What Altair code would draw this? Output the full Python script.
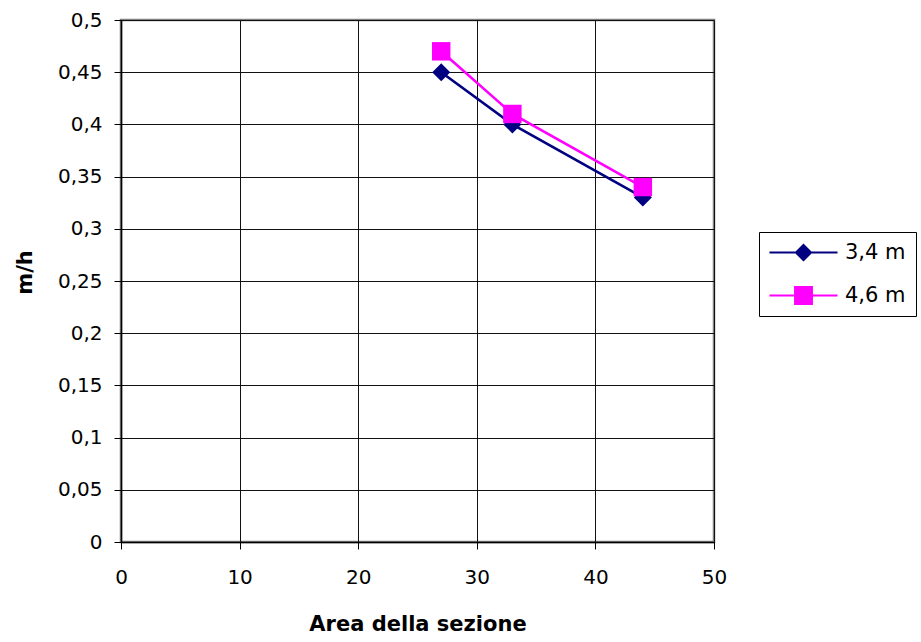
import altair as alt
import pandas as pd

# ---- data ----
series_names = ["3,4 m", "4,6 m"]
series_colors = ["#000080", "#FF00FF"]
area_34 = [27, 33, 44]
mh_34 = [0.45, 0.40, 0.33]
area_46 = [27, 33, 44]
mh_46 = [0.47, 0.41, 0.34]
x_ticks = [0, 10, 20, 30, 40, 50]
y_ticks = [0, 0.05, 0.1, 0.15, 0.2, 0.25, 0.3, 0.35, 0.4, 0.45, 0.5]

df = pd.DataFrame({
    "serie": [series_names[0]] * len(area_34) + [series_names[1]] * len(area_46),
    "area": area_34 + area_46,
    "mh": mh_34 + mh_46,
})

FONT = "DejaVu Sans"
W, H = 593, 522

# legend symbols: a line segment with the marker on it (units of 9 px)
diamond_path = ("M-3.78,-0.12L3.78,-0.12L3.78,0.12L-3.78,0.12Z "
                "M-1,0L0,-1L1,0L0,1Z")
square_path = ("M-3.78,-0.12L3.78,-0.12L3.78,0.12L-3.78,0.12Z "
               "M-1.05,-1.05L1.05,-1.05L1.05,1.05L-1.05,1.05Z")

x_enc = alt.X(
    "area:Q",
    scale=alt.Scale(domain=[0, 50], nice=False, zero=False),
    axis=alt.Axis(
        values=x_ticks, title="Area della sezione", grid=True,
        gridColor="#111111", gridWidth=1, gridOpacity=1,
        domainColor="#000000", domainWidth=1.5,
        tickColor="#000000", tickSize=7, tickWidth=1,
        labelFont=FONT, labelFontSize=20, labelColor="#000000",
        labelPadding=18, labelFlush=False,
        titleFont=FONT, titleFontSize=21, titleFontWeight="bold",
        titleColor="#000000", titleBaseline="alphabetic",
        titleX=W / 2, titleY=88, titleAlign="center",
    ),
)
y_enc = alt.Y(
    "mh:Q",
    scale=alt.Scale(domain=[0, 0.5], nice=False, zero=False),
    axis=alt.Axis(
        values=y_ticks, title="m/h", grid=True,
        gridColor="#111111", gridWidth=1, gridOpacity=1,
        domainColor="#000000", domainWidth=1.5,
        tickColor="#000000", tickSize=7, tickWidth=1,
        labelFont=FONT, labelFontSize=20, labelColor="#000000",
        labelPadding=12, labelFlush=False,
        labelExpr="replace(format(datum.value, '.2~f'), '.', ',')",
        titleFont=FONT, titleFontSize=21, titleFontWeight="bold",
        titleColor="#000000", titleAngle=-90, titleBaseline="middle",
        titleAlign="center", titleX=-96, titleY=252,
    ),
)

color_scale = alt.Scale(domain=series_names, range=series_colors)

base = alt.Chart(df)


def series_layers(name, shape, size):
    sub = base.transform_filter(alt.datum.serie == name)
    line = sub.mark_line(strokeWidth=2.6).encode(
        x=x_enc, y=y_enc,
        color=alt.Color("serie:N", scale=color_scale, legend=None),
        order="area:Q",
    )
    pts = sub.mark_point(filled=True, shape=shape, size=size, opacity=1,
                         strokeWidth=0).encode(
        x=x_enc, y=y_enc,
        color=alt.Color("serie:N", scale=color_scale, legend=None),
    )
    return [line, pts]


legend_props = dict(
    title=None, orient="none", legendX=638, legendY=212,
    symbolSize=324, symbolOffset=24, labelOffset=31,
    symbolStrokeWidth=0, rowPadding=21, padding=10,
    strokeColor="#000000", fillColor="#FFFFFF",
    labelFont=FONT, labelFontSize=21, labelColor="#000000",
    labelLimit=200, symbolOpacity=1,
)

# legend-only layer: invisible points (size 0), legend draws its own symbols
legend_layer = base.mark_point(
    filled=True, opacity=1, strokeWidth=0, size=0
).encode(
    x=x_enc, y=y_enc,
    color=alt.Color("serie:N", scale=color_scale,
                    legend=alt.Legend(**legend_props)),
    shape=alt.Shape("serie:N",
                    scale=alt.Scale(domain=series_names,
                                    range=[diamond_path, square_path]),
                    legend=alt.Legend(**legend_props)),
)

layers = ([legend_layer]
          + series_layers(series_names[0], "diamond", 324)
          + series_layers(series_names[1], "square", 340))

chart = alt.layer(*layers).properties(
    width=W, height=H,
    autosize=alt.AutoSizeParams(type="none"),
    padding={"left": 121, "top": 20, "right": 921 - 121 - W,
             "bottom": 642 - 20 - H},
    background="#FFFFFF",
).configure_view(
    stroke="#808080", strokeWidth=2.5,
)

chart.save("out.html", embed_options={"renderer": "svg", "actions": False})
